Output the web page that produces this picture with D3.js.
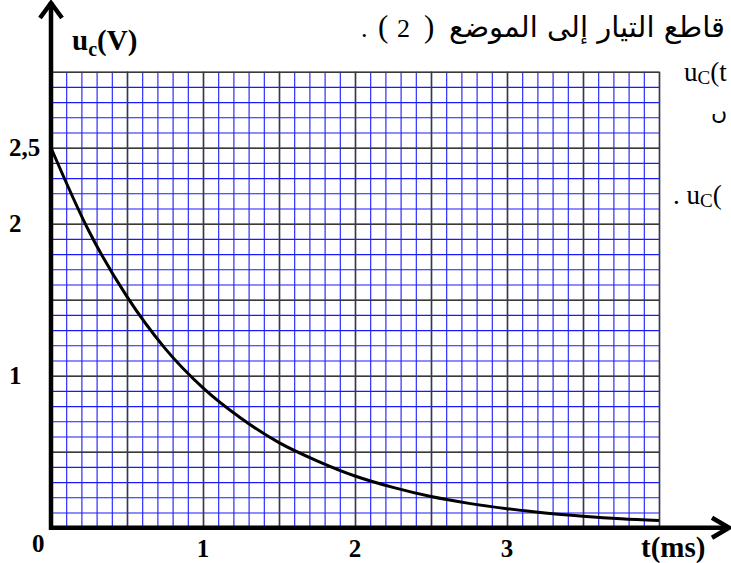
<!DOCTYPE html>
<html><head><meta charset="utf-8">
<script src="https://cdn.jsdelivr.net/npm/d3@7"></script>
<style>html,body{margin:0;padding:0;background:#fff;overflow:hidden}</style>
</head><body><svg id="c" width="731" height="563"></svg>
<script>
// ---- data ----
const timeMs  = [0, 0.25, 0.5, 0.75, 1, 1.25, 1.5, 1.75, 2, 2.25, 2.5, 2.75, 3, 3.25, 3.5, 3.75, 4];
const ucVolts = [2.5, 1.95, 1.52, 1.18, 0.92, 0.72, 0.56, 0.44, 0.34, 0.265, 0.205, 0.16, 0.125, 0.097, 0.076, 0.059, 0.047];
const xTickValues = [1, 2, 3];
const xTickLabels = ["1", "2", "3"];
const yTickValues = [1, 2, 2.5];
const yTickLabels = ["1", "2", "2,5"];
const originLabel = "0";
const xTitle = "t(ms)";
const yTitleMain = "u", yTitleSub = "c", yTitleUnit = "(V)";
const headerArabic = "قاطع التيار إلى الموضع";
const headerLatin = [".", "(", "2", ")"];

const svg = d3.select("#c");
const serif = "'Liberation Serif','Times New Roman',serif";

const x = d3.scaleLinear().domain([0, 4]).range([51, 659]);
const y = d3.scaleLinear().domain([0, 3]).range([527.7, 71.7]);
const W = x.range()[1] - x.range()[0];
const H = y.range()[0] - y.range()[1];

// minor grid
svg.append("g").attr("transform", `translate(0,${y(0)})`)
  .call(d3.axisBottom(x).ticks(40).tickSize(-H).tickFormat(""))
  .call(g => g.select(".domain").remove())
  .call(g => g.selectAll("line").attr("stroke", "#1a1aff").attr("stroke-width", 1.1));
svg.append("g").attr("transform", `translate(${x(0)},0)`)
  .call(d3.axisLeft(y).ticks(30).tickSize(-W).tickFormat(""))
  .call(g => g.select(".domain").remove())
  .call(g => g.selectAll("line").attr("stroke", "#1a1aff").attr("stroke-width", 1.1));
// major grid
svg.append("g").attr("transform", `translate(0,${y(0)})`)
  .call(d3.axisBottom(x).tickValues(d3.range(0, 4.01, 0.5)).tickSize(-H).tickFormat(""))
  .call(g => g.select(".domain").remove())
  .call(g => g.selectAll("line").attr("stroke", "#3a3a3a").attr("stroke-width", 1.6));
svg.append("g").attr("transform", `translate(${x(0)},0)`)
  .call(d3.axisLeft(y).tickValues(d3.range(0, 3.01, 0.5)).tickSize(-W).tickFormat(""))
  .call(g => g.select(".domain").remove())
  .call(g => g.selectAll("line").attr("stroke", "#3a3a3a").attr("stroke-width", 1.6));

// curve
svg.append("path")
  .datum(timeMs.map((t, i) => [t, ucVolts[i]]))
  .attr("fill", "none").attr("stroke", "#000").attr("stroke-width", 3)
  .attr("d", d3.line().x(d => x(d[0])).y(d => y(d[1])).curve(d3.curveMonotoneX));

// axes
const ax = svg.append("g").attr("stroke", "#000").attr("stroke-width", 4.5).attr("fill", "none");
ax.append("line").attr("x1", x(0)).attr("y1", y(0) + 2).attr("x2", x(0)).attr("y2", 2);
ax.append("line").attr("x1", x(0) - 2).attr("y1", y(0)).attr("x2", 729).attr("y2", y(0));
ax.append("path").attr("stroke-linejoin", "miter")
  .attr("d", `M${x(0) - 11},18 L${x(0)},3 L${x(0) + 11},18`);
ax.append("path").attr("stroke-linejoin", "miter")
  .attr("d", `M712,${y(0) - 10} L729,${y(0)} L712,${y(0) + 10}`);

// tick labels
const lab = svg.append("g").attr("font-family", serif).attr("font-weight", "bold").attr("font-size", 25).attr("fill", "#000");
lab.selectAll(".yl").data(yTickValues).join("text")
  .attr("x", 9).attr("y", d => y(d)).attr("dy", "0.34em").text((d, i) => yTickLabels[i]);
lab.selectAll(".xl").data(xTickValues).join("text")
  .attr("x", d => x(d)).attr("y", 557).attr("text-anchor", "middle").text((d, i) => xTickLabels[i]);
lab.append("text").attr("x", 32).attr("y", 552).text(originLabel);
lab.append("text").attr("x", 641).attr("y", 557).attr("font-size", 29).text(xTitle);
const yt = lab.append("text").attr("x", 72).attr("y", 50).attr("font-size", 29);
yt.append("tspan").text(yTitleMain);
yt.append("tspan").attr("font-size", 20).attr("dy", 6).text(yTitleSub);
yt.append("tspan").attr("dy", -6).text(yTitleUnit);

// surrounding text fragments
svg.append("text").attr("x", 449).attr("y", 37)
  .attr("font-family", "'DejaVu Sans',sans-serif").attr("font-size", 29)
  .style("direction", "rtl").attr("text-anchor", "end").text(headerArabic);
svg.append("text").attr("y", 37).attr("font-family", serif).attr("font-size", 26)
  .selectAll("tspan").data(headerLatin).join("tspan")
  .attr("x", (d, i) => [361, 378, 397, 424][i])
  .attr("font-size", d => (d === "(" || d === ")") ? 31 : 26)
  .text(d => d);

const frag = svg.append("g").attr("font-family", serif).attr("font-size", 27).attr("fill", "#000");
const f1 = frag.append("text").attr("x", 684).attr("y", 81);
f1.append("tspan").text("u"); f1.append("tspan").attr("font-size", 19).attr("dy", 3).text("C");
f1.append("tspan").attr("dy", -3).text("(t");
frag.append("text").attr("x", 711).attr("y", 119).attr("font-family", "'DejaVu Sans',sans-serif").attr("font-size", 22).text("ں");
const f2 = frag.append("text").attr("x", 673).attr("y", 204);
f2.append("tspan").text(". u"); f2.append("tspan").attr("font-size", 19).attr("dy", 3).text("C");
f2.append("tspan").attr("dy", -3).text("(");
</script></body></html>
